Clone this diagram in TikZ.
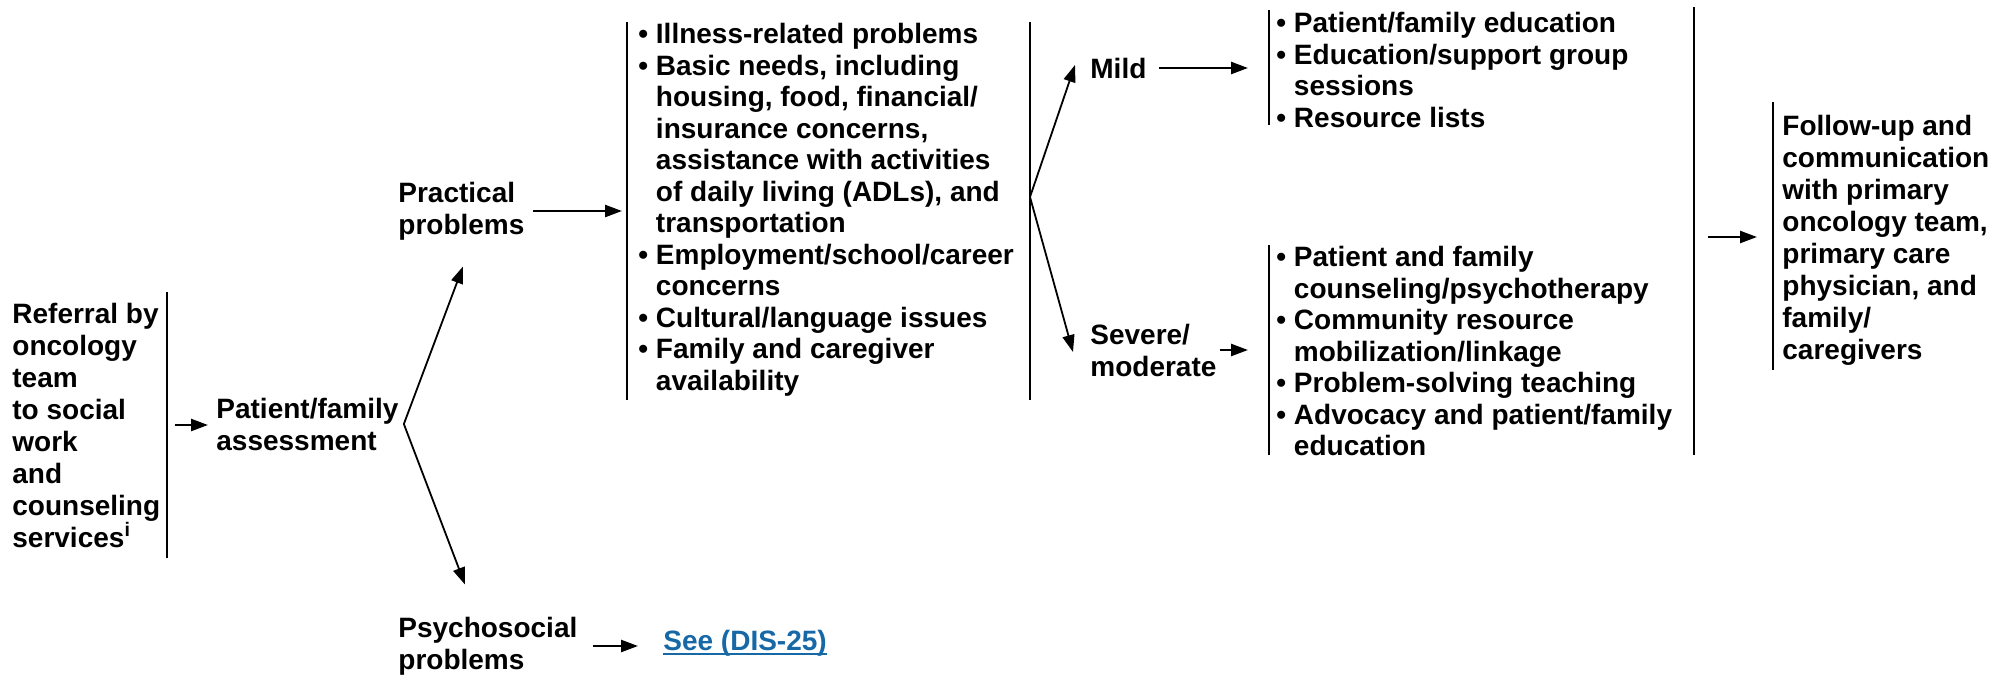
\documentclass[tikz,border=0pt]{standalone}
\usepackage{fontspec}
\setmainfont{Liberation Sans}
\usetikzlibrary{arrows.meta}

\definecolor{linkblue}{RGB}{22,104,166}

\newcommand{\itm}{\textbullet\ }
\newcommand{\ind}{\phantom{\textbullet\ }}
\newcommand{\ulink}[1]{\setbox0=\hbox{#1}\rlap{\rule[-2.5pt]{\wd0}{1pt}}\box0}

\begin{document}
\begin{tikzpicture}[x = 0.5pt, y = -0.5pt,
	txt/.style = {inner sep = 0pt, anchor = west, align = left, font = \bfseries\fontsize{14}{16}\selectfont},
	lst/.style = {txt, font = \bfseries\fontsize{14}{15.75}\selectfont},
	bar/.style = {line width = 1.1pt},
	arr/.style = {line width = 1.2pt, -{Triangle[length = 8.5pt, width = 6pt]}},
	darr/.style = {arr, line width = 0.9pt}]

	% Frame

	\useasboundingbox (0, 0) rectangle (2015, 675);

	% Texts

	\node [txt] (referral) at (12, 425) {Referral by\\oncology\\team\\to social\\work\\and\\counseling\\services\textsuperscript{i}};
	\node [txt] (assessment) at (216, 424) {Patient/family\\assessment};
	\node [txt] (practical) at (398, 211) {Practical\\problems};
	\node [txt] (psychosocial) at (398, 646) {Psychosocial\\problems};
	\node [txt, text = linkblue] (seelink) at (663, 643) {\ulink{See (DIS-25)}};

	\node [lst] (practicalList) at (638, 210) {\itm Illness-related problems\\
		\itm Basic needs, including\\
		\ind housing, food, financial/\\
		\ind insurance concerns,\\
		\ind assistance with activities\\
		\ind of daily living (ADLs), and\\
		\ind transportation\\
		\itm Employment/school/career\\
		\ind concerns\\
		\itm Cultural/language issues\\
		\itm Family and caregiver\\
		\ind availability};

	\node [txt] (mild) at (1090, 68) {Mild};
	\node [txt] (severe) at (1090, 350) {Severe/\\moderate};

	\node [lst] (mildList) at (1276, 70) {\itm Patient/family education\\
		\itm Education/support group\\
		\ind sessions\\
		\itm Resource lists};

	\node [lst] (severeList) at (1276, 351) {\itm Patient and family\\
		\ind counseling/psychotherapy\\
		\itm Community resource\\
		\ind mobilization/linkage\\
		\itm Problem-solving teaching\\
		\itm Advocacy and patient/family\\
		\ind education};

	\node [txt] (followup) at (1782, 240) {Follow-up and\\communication\\with primary\\oncology team,\\primary care\\physician, and\\family/\\caregivers};

	% Bars

	\draw [bar] (167, 292) -- (167, 558);
	\draw [bar] (627, 22) -- (627, 400);
	\draw [bar] (1030, 22) -- (1030, 400);
	\draw [bar] (1269, 10) -- (1269, 125);
	\draw [bar] (1269, 245) -- (1269, 455);
	\draw [bar] (1694, 7) -- (1694, 455);
	\draw [bar] (1773, 102) -- (1773, 370);

	% Forks

	\coordinate (fork1) at ([xshift = 2.5pt] assessment.east);
	\coordinate (fork2) at (1030, 197);
	\coordinate (barE) at (1694, 237);

	% Arrows

	\draw [arr] ([xshift = 7pt] referral.east) -- ([xshift = -4pt] referral.east -| assessment.west);
	\draw [darr] (fork1) -- ([xshift = 32.5pt, yshift = -13pt] practical.south west);
	\draw [darr] (fork1) -- ([xshift = 33.5pt, yshift = 16pt] psychosocial.north west);
	\draw [arr] ([xshift = 4pt] practical.east) -- ([xshift = -8pt] practical.east -| practicalList.west);
	\draw [arr] ([xshift = 7.5pt] psychosocial.east) -- ([xshift = -12.5pt] psychosocial.east -| seelink.west);
	\draw [darr] (fork2) -- ([xshift = -7.5pt, yshift = 1.5pt] mild.west);
	\draw [darr] (fork2) -- ([xshift = -8.5pt, yshift = -1pt] severe.west);
	\draw [arr] ([xshift = 6pt] mild.east) -- ([xshift = -14pt] mild.east -| mildList.west);
	\draw [arr] ([xshift = 1.5pt] severe.east) -- ([xshift = -14pt] severe.east -| severeList.west);
	\draw [arr] ([xshift = 7pt] barE) -- ([xshift = -12.5pt] barE -| followup.west);

\end{tikzpicture}
\end{document}
